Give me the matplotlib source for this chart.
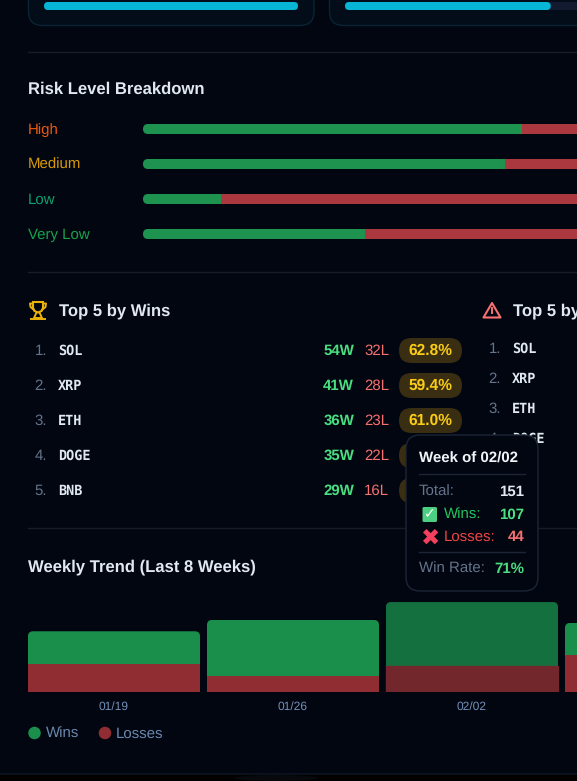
import matplotlib
matplotlib.use('Agg')
import matplotlib.pyplot as plt
from matplotlib.patches import FancyBboxPatch, Ellipse, Polygon

plt.rcParams['font.family'] = ['Liberation Sans', 'DejaVu Sans']
plt.rcParams['text.hinting'] = 'none'

W, H = 577, 781

#values
cardFill = [100, 81]                #percent filled, top cards
riskLevels = ['High', 'Medium', 'Low', 'Very Low']
riskColors = ['#ea580c', '#d99a06', '#0e9f6e', '#16a34a']
riskWinPct = [71.5, 68.3, 14.7, 41.9]
riskLossPct = [28.5, 31.7, 85.3, 58.1]

winSymbols = ['SOL', 'XRP', 'ETH', 'DOGE', 'BNB']
winW = [54, 41, 36, 35, 29]
winL = [32, 28, 23, 22, 16]
winRate = [62.8, 59.4, 61.0, None, None]  #last two are under the tooltip
lossSymbols = ['SOL', 'XRP', 'ETH', 'DOGE']

weeks = ['01/19', '01/26', '02/02', '02/09']
weekWins = [55, 94, 107, 54]
weekLosses = [47, 27, 44, 62]
hoverWeek = 2

#colours
bg = '#010611'
slate = '#64748b'
light = '#e2e8f0'
green = '#4ade80'
red = '#f87171'
barGreen = '#1a8f4b'
barRed = '#8f2d32'
px = 0.72  #font size in pt for 1 css px at dpi 100

fig = plt.figure(figsize=(W/100, H/100), dpi=100, facecolor='black')
ax = fig.add_axes([0, 0, 1, 1])
ax.set_xlim(0, W)
ax.set_ylim(H, 0)
ax.axis('off')


def roundbox(a, x0, y0, x1, y1, r, **kw):
    p = FancyBboxPatch((x0, y0), x1-x0, y1-y0, boxstyle=f'round,pad=0,rounding_size={r}', **kw)
    a.add_patch(p)
    return p


def txt(x, y, s, size, color='white', **kw):
    kw.setdefault('va', 'center')
    return ax.text(x, y+0.7, s, fontsize=size*px, color=color, **kw)


def subaxes(x0, y0, x1, y1):
    a = fig.add_axes([x0/W, 1-y1/H, (x1-x0)/W, (y1-y0)/H])
    a.patch.set_alpha(0)
    for s in a.spines.values():
        s.set_visible(False)
    return a


#page panel
roundbox(ax, -30, -30, W+30, 774, 14, fc=bg, ec='#0f1826', lw=1, zorder=1)
ax.add_patch(Ellipse((276, 778), 85, 6, fc='#07090d', ec='none', zorder=0))

#top cards, cut off by the top of the picture
for x0, pct in zip([28, 329], cardFill):
    roundbox(ax, x0+0.5, -30, x0+286, 25.5, 14, fc='#020d19', ec='#0b2433', lw=1, zorder=2)
    tw = 254
    roundbox(ax, x0+16, 2, x0+16+tw, 10, 4, fc='#111a2e', ec='none', zorder=3)
    roundbox(ax, x0+16, 2, x0+16+tw*pct/100, 10, 4, fc='#06b6d4', ec='none', zorder=4)

#dividers
for y in [51.5, 272, 528]:
    ax.plot([28, W], [y, y], color='#171d28', lw=1, zorder=2)

#risk section
txt(28, 89, 'Risk Level Breakdown', 16.6, light, fontweight='bold', zorder=5)
for i, (lab, c) in enumerate(zip(riskLevels, riskColors)):
    txt(28, 129+35*i, lab, 15, c, zorder=5)

rx = subaxes(143, 111.5, W, 251.5)
ypos = range(len(riskLevels))
winBars = rx.barh(ypos, riskWinPct, height=10/35, color='#1e9350')
rx.barh(ypos, riskLossPct, left=riskWinPct, height=10/35, color='#ab383f')
rx.set_xlim(0, 100*(W-143)/530)
rx.set_ylim(3.5, -0.5)
rx.axis('off')
#rounded left end
for b in winBars:
    clip = FancyBboxPatch((b.get_x(), b.get_y()), 100, b.get_height(),
                          boxstyle=f'round,pad=0,rounding_size={5*100/530}',
                          mutation_aspect=(1/35)/(100/530), transform=rx.transData)
    b.set_clip_path(clip)

#trophy icon
gold = '#eab308'
cup = [(33, 302), (43, 302), (43, 308), (41.5, 311), (38, 312.5), (34.5, 311), (33, 308)]
ax.add_patch(Polygon(cup, closed=True, fc='none', ec=gold, lw=1.5, zorder=5))
ax.plot([33, 30, 30.5, 33.5], [303.5, 303.5, 307, 309.5], color=gold, lw=1.4, zorder=5)
ax.plot([43, 46, 45.5, 42.5], [303.5, 303.5, 307, 309.5], color=gold, lw=1.4, zorder=5)
ax.plot([36.5, 34, 42, 39.5], [312.5, 318, 318, 312.5], color=gold, lw=1.4, zorder=5)
ax.plot([31, 45], [318.5, 318.5], color=gold, lw=1.4, zorder=5)

#warning icon
ax.add_patch(Polygon([(492, 303), (500.5, 317.5), (483.5, 317.5)], closed=True, fc='none',
                     ec='#f87171', lw=1.5, joinstyle='round', zorder=5))
ax.plot([492, 492], [308, 312.5], color='#f87171', lw=1.4, zorder=5)
ax.plot([492, 492], [314.5, 315.2], color='#f87171', lw=1.4, zorder=5)

#top 5 by wins
txt(59, 310, 'Top 5 by Wins', 16.6, light, fontweight='bold', zorder=5)
for i, s in enumerate(winSymbols):
    y = 350+35*i
    txt(47, y, f'{i+1}.', 15, slate, ha='right', zorder=5)
    txt(58, y, s, 13.5, light, family='DejaVu Sans Mono', fontweight='bold', zorder=5)
    txt(354, y, f'{winW[i]}W', 15, green, ha='right', fontweight='bold', zorder=5)
    txt(389, y, f'{winL[i]}L', 15, red, ha='right', zorder=5)
    roundbox(ax, 399, y-12, 462, y+13, 12.5, fc='#392d12', ec='none', zorder=4)
    if winRate[i] is not None:
        txt(430.5, y, f'{winRate[i]:.1f}%', 15.5, '#facc15', ha='center', fontweight='bold', zorder=5)

#top 5 by losses, cut off on the right
txt(513, 310, 'Top 5 by Losses', 16.6, light, fontweight='bold', zorder=5)
for i, s in enumerate(lossSymbols):
    y = 348+30*i
    txt(501, y, f'{i+1}.', 15, slate, ha='right', zorder=5)
    txt(512, y, s, 13.5, light, family='DejaVu Sans Mono', fontweight='bold', zorder=5)

#weekly trend
txt(28, 566, 'Weekly Trend (Last 8 Weeks)', 16.6, light, fontweight='bold', zorder=5)
tx = subaxes(28, 592, W, 692)
xpos = list(range(len(weeks)))
wBars = tx.bar(xpos, weekWins, bottom=weekLosses, width=172/179, color=barGreen)
lBars = tx.bar(xpos, weekLosses, width=172/179, color=barRed)
wBars[hoverWeek].set_color('#14713f')
lBars[hoverWeek].set_color('#72272c')
tx.set_xticks(xpos, weeks)
tx.set_yticks([])
tx.set_xlim((28-114)/179, (W-114)/179)
tx.set_ylim(0, 168)
tx.tick_params(axis='x', length=0, pad=6.5, labelsize=12*px, labelcolor='#7390b8')
#rounded top corners
for b in wBars:
    clip = FancyBboxPatch((b.get_x(), 0), b.get_width(), b.get_y()+b.get_height(),
                          boxstyle=f'round,pad=0,rounding_size={5/179}',
                          mutation_aspect=(168/100)/(1/179), transform=tx.transData)
    b.set_clip_path(clip)

#legend
ax.add_patch(Ellipse((34.5, 733), 12.5, 12.5, fc=barGreen, ec='none', zorder=5))
txt(46, 733, 'Wins', 15, '#6b88ad', zorder=5)
ax.add_patch(Ellipse((105, 733), 12.5, 12.5, fc=barRed, ec='none', zorder=5))
txt(116, 733, 'Losses', 15, '#6b88ad', zorder=5)

#tooltip
roundbox(ax, 406, 435, 538, 591, 14, fc='#020611', ec='#1c2536', lw=1, zorder=10)
tz = 11
txt(419, 458, 'Week of 02/02', 15, '#f1f5f9', fontweight='bold', zorder=tz)
ax.plot([419, 525], [474, 474], color='#1c2536', lw=1, zorder=tz)
txt(419, 491, 'Total:', 15, slate, zorder=tz)
txt(524, 491, '151', 15, light, ha='right', fontweight='bold', zorder=tz)
roundbox(ax, 422.5, 507, 437, 522, 1.5, fc='#4ccf82', ec='none', zorder=tz)
txt(429.7, 514, '\u2713', 14, 'white', ha='center', family='DejaVu Sans', zorder=tz+1)
txt(444, 514, 'Wins:', 15, '#22c55e', zorder=tz)
txt(524, 514, '107', 15, green, ha='right', fontweight='bold', zorder=tz)
txt(429.5, 537.5, '\u2716', 23, '#f43f5e', ha='center', family='DejaVu Sans', zorder=tz)
txt(444, 536.5, 'Losses:', 15, '#ef4444', zorder=tz)
txt(524, 536.5, '44', 15, red, ha='right', fontweight='bold', zorder=tz)
ax.plot([419, 525], [552, 552], color='#1c2536', lw=1, zorder=tz)
txt(419, 568, 'Win Rate:', 15, slate, zorder=tz)
txt(524, 568, '71%', 15, green, ha='right', fontweight='bold', zorder=tz)

fig.savefig('out.png', dpi=100, facecolor=fig.get_facecolor())
